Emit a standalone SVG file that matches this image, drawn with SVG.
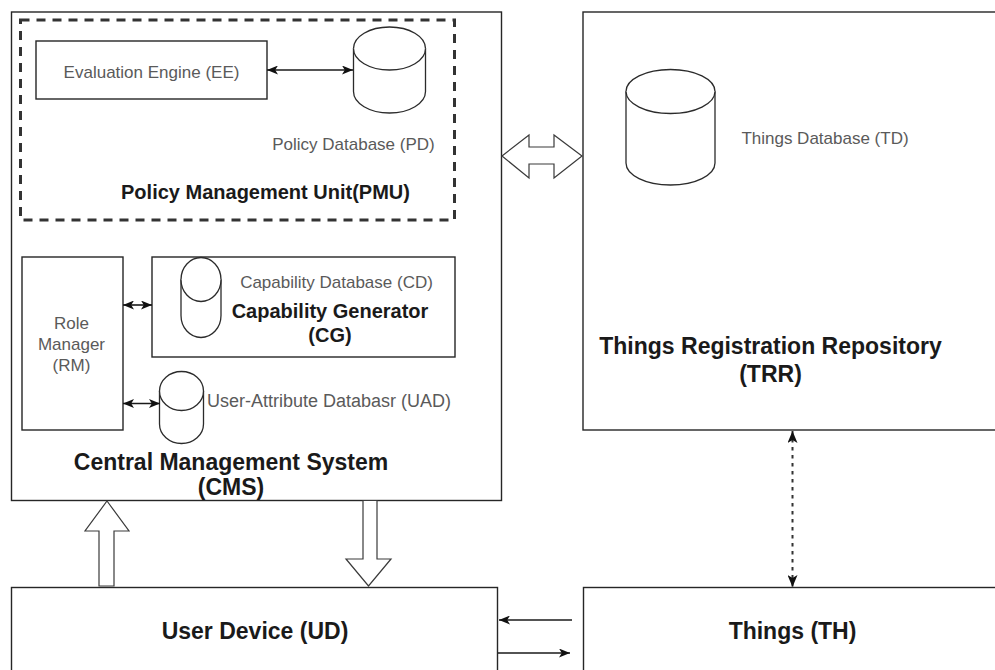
<svg xmlns="http://www.w3.org/2000/svg" width="995" height="670" viewBox="0 0 995 670">
  <style>
    .box { fill: #ffffff; stroke: #262626; stroke-width: 1.4; }
    .dash { fill: none; stroke: #333333; stroke-width: 3; stroke-dasharray: 9 7; }
    .db { fill: #ffffff; stroke: #2b2b2b; stroke-width: 1.3; }
    .fat { fill: #ffffff; stroke: #3a3a3a; stroke-width: 1.2; stroke-linejoin: miter; }
    .link { fill: none; stroke: #1a1a1a; stroke-width: 1.6; }
    .dotted { fill: none; stroke: #333333; stroke-width: 2; stroke-dasharray: 3.5 4.5; }
    .lbl { font-family: "Liberation Sans", Arial, sans-serif; font-size: 17px; fill: #5a5a5a; text-anchor: middle; }
    .ttl { font-family: "Liberation Sans", Arial, sans-serif; font-size: 20px; font-weight: bold; fill: #1a1a1a; text-anchor: middle; }
    .big { font-family: "Liberation Sans", Arial, sans-serif; font-size: 23px; font-weight: bold; fill: #1a1a1a; text-anchor: middle; }
  </style>
  <defs>
    <marker id="head" viewBox="0 0 11 9" refX="11" refY="4.5" markerWidth="11" markerHeight="9" markerUnits="userSpaceOnUse" orient="auto-start-reverse">
      <path d="M0,0 L11,4.5 L0,9 L2.8,4.5 Z" fill="#111111" stroke="none"/>
    </marker>
    <marker id="headDot" viewBox="0 0 12 10" refX="12" refY="5" markerWidth="12" markerHeight="10" markerUnits="userSpaceOnUse" orient="auto-start-reverse">
      <path d="M0,0 L12,5 L0,10 L3,5 Z" fill="#111111" stroke="none"/>
    </marker>
  </defs>

  <!-- Central Management System container -->
  <g id="cms">
    <rect class="box" x="11.5" y="12" width="490" height="488.5"/>
    <text class="big" x="231" y="470">Central Management System</text>
    <text class="big" x="231" y="495">(CMS)</text>
  </g>

  <!-- Policy Management Unit (dashed group) -->
  <g id="pmu">
    <rect class="dash" x="20.5" y="20" width="434" height="200"/>
    <text class="ttl" x="265.5" y="199">Policy Management Unit(PMU)</text>
  </g>

  <g id="ee">
    <rect class="box" x="36" y="41" width="231" height="58"/>
    <text class="lbl" x="151.5" y="77.5">Evaluation Engine (EE)</text>
  </g>

  <g id="pd">
    <path class="db" d="M353.5,48.5 A36,21.5 0 0 1 425.5,48.5 L425.5,91.5 A36,21.5 0 0 1 353.5,91.5 Z"/>
    <path class="db" d="M353.5,48.5 A36,21.5 0 0 0 425.5,48.5" fill="none"/>
    <text class="lbl" x="353.5" y="150">Policy Database (PD)</text>
  </g>

  <g id="rm">
    <rect class="box" x="22" y="257" width="101" height="173"/>
    <text class="lbl" x="71.5" y="329">Role</text>
    <text class="lbl" x="71.5" y="350">Manager</text>
    <text class="lbl" x="71.5" y="370.5">(RM)</text>
  </g>

  <g id="cg">
    <rect class="box" x="152" y="257" width="303" height="100"/>
    <text class="ttl" x="330" y="318">Capability Generator</text>
    <text class="ttl" x="330" y="341.5">(CG)</text>
  </g>

  <g id="cd">
    <path class="db" d="M181,279.5 A20,22 0 0 1 221,279.5 L221,315.5 A20,22 0 0 1 181,315.5 Z"/>
    <path class="db" d="M181,279.5 A20,22 0 0 0 221,279.5" fill="none"/>
    <text class="lbl" x="336.5" y="287.5">Capability Database (CD)</text>
  </g>

  <g id="uad">
    <path class="db" d="M159.5,391 A22,19.5 0 0 1 203.5,391 L203.5,424 A22,19.5 0 0 1 159.5,424 Z"/>
    <path class="db" d="M159.5,391 A22,19.5 0 0 0 203.5,391" fill="none"/>
    <text class="lbl" x="329" y="406.5" style="font-size:18px">User-Attribute Databasr (UAD)</text>
  </g>

  <!-- Things Registration Repository -->
  <g id="trr">
    <rect class="box" x="583" y="12" width="420" height="418"/>
    <text class="big" x="770.5" y="354">Things Registration Repository</text>
    <text class="big" x="770.5" y="381.5">(TRR)</text>
  </g>

  <g id="td">
    <path class="db" d="M626,91.5 A44.5,22 0 0 1 715,91.5 L715,163 A44.5,22 0 0 1 626,163 Z"/>
    <path class="db" d="M626,91.5 A44.5,22 0 0 0 715,91.5" fill="none"/>
    <text class="lbl" x="825" y="143.5">Things Database (TD)</text>
  </g>

  <g id="ud">
    <rect class="box" x="11.5" y="587.5" width="486" height="100"/>
    <text class="big" x="255" y="639">User Device (UD)</text>
  </g>

  <g id="th">
    <rect class="box" x="583.5" y="587.5" width="420" height="100"/>
    <text class="big" x="792.5" y="639">Things (TH)</text>
  </g>

  <!-- connectors -->
  <g id="connectors">
    <line class="link" x1="267" y1="70" x2="353" y2="70" marker-start="url(#head)" marker-end="url(#head)"/>
    <line class="link" x1="123" y1="305" x2="152" y2="305" marker-start="url(#head)" marker-end="url(#head)"/>
    <line class="link" x1="123" y1="403.5" x2="160" y2="403.5" marker-start="url(#head)" marker-end="url(#head)"/>
    <line class="link" x1="572" y1="620" x2="499" y2="620" marker-end="url(#head)"/>
    <line class="link" x1="498" y1="653" x2="570" y2="653" marker-end="url(#head)"/>
    <line class="dotted" x1="792.5" y1="431" x2="792.5" y2="587" marker-start="url(#headDot)" marker-end="url(#headDot)"/>
    <!-- hollow block arrows -->
    <polygon class="fat" points="502,156 529,135 529,147 554,147 554,135 582,156 554,178 554,164 529,164 529,178"/>
    <polygon class="fat" points="107,501 129,531 114,531 114,586 99,586 99,531 85,531"/>
    <polygon class="fat" points="363,500.5 377,500.5 377,559 391,559 368.5,586 346,559 363,559"/>
  </g>
</svg>
